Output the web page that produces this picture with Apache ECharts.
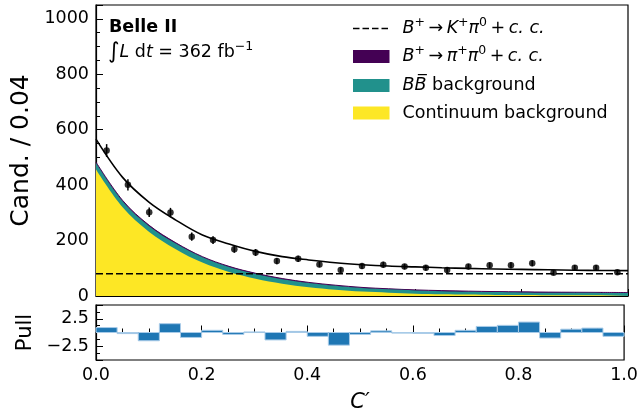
<!DOCTYPE html>
<html><head><meta charset="utf-8">
<script src="https://cdn.jsdelivr.net/npm/echarts@6/dist/echarts.min.js"></script>
<style>html,body{margin:0;padding:0;background:#fff}#c{width:641px;height:417px}</style>
</head><body><div id="c"></div>
<script>
// ---- data ----
const binWidth = 0.04;
const dataX = [0.02,0.06,0.10,0.14,0.18,0.22,0.26,0.30,0.34,0.38,0.42,0.46,0.50,0.54,0.58,0.62,0.66,0.70,0.74,0.78,0.82,0.86,0.90,0.94,0.98];
const dataY = [525,401,302,301,214,202,169,157,126,134,114,94,108,113,106,102,94,106,111,111,118,84,102,102,86];
const dataErr = [23,20,17,17,15,14,13,12.5,11,11.5,10.5,10,10.5,10.5,10,10,10,10,10.5,10.5,11,9,10,10,9];
const pulls = [0.9,-0.2,-1.5,1.6,-0.9,0.4,-0.35,0.1,-1.35,0.2,-0.7,-2.3,-0.35,0.3,-0.05,-0.15,-0.55,0.4,1.1,1.3,1.9,-1.0,0.6,0.8,-0.7];
const curveX = [0,0.05,0.10,0.15,0.20,0.25,0.30,0.35,0.40,0.45,0.50,0.55,0.60,0.65,0.70,0.75,0.80,0.85,0.90,0.95,1.00];
const totalFit = [566,428,338,274,220,188,161,142,130,120,113,108,105,102,99.5,97.5,96,94.5,93,92,91.5];
const continuum = [456,320,231,169,120.5,86.5,62.5,44.5,32,23,16,12,8.5,6.5,5,4,3.5,3,3,3,2.5];
const bbBkg = [24,22,21,20,19,18,17,16,15,14,13,12,11.5,11,10.5,10,9.5,9,8.5,8,8];
const pipiSig = [3,3,3,3,2.5,2.5,2.5,2.5,2,2,2,2,2,2,2,2,2,2,2,2,2];
const kpiX = [0, 1];
const kpiY = [80, 80];
const xTicks = ['0.0','0.2','0.4','0.6','0.8','1.0'];

// ---- derived tables ----
const pairs = (xs, ys) => xs.map((x, i) => [x, ys[i]]);
const contTop = continuum.slice();
const bbTop = continuum.map((v, i) => v + bbBkg[i]);
const pipiTop = bbTop.map((v, i) => v + pipiSig[i]);

const FONT = 'DejaVu Sans';
const C_YEL = '#fde725', C_TEAL = '#21918c', C_PURP = '#440154', C_BLUE = '#1f77b4';

const frame = {lineStyle:{color:'#000', width:1.2}};
const chart = echarts.init(document.getElementById('c'), null, {renderer:'canvas'});

const base = {fontFamily: FONT, fontSize: 17.5, color:'#000'};
const rich = {
  n: {fontFamily: FONT, fontSize: 17.5, lineHeight: 24, color:'#000'},
  i: {fontFamily: FONT, fontSize: 17.5, lineHeight: 24, fontStyle:'italic', color:'#000'},
  s: {fontFamily: FONT, fontSize: 12.5, lineHeight: 14, verticalAlign:'top', color:'#000'},
  b: {fontFamily: FONT, fontSize: 17.5, lineHeight: 24, fontWeight:'bold', color:'#000'},
  int: {fontFamily: FONT, fontSize: 22, lineHeight: 24, color:'#000'}
};
function txt(x, y, text) {
  return {type:'text', x: x, y: y, z: 100, style:{text: text, rich: rich, verticalAlign:'middle', align:'left', font: '17.5px "DejaVu Sans"'}};
}

const option = {
  animation: false,
  backgroundColor: '#fff',
  grid: [
    {left: 96, right: 13, top: 5, bottom: 121, show: true, borderColor:'#000', borderWidth: 1.2, backgroundColor:'transparent'},
    {left: 96, right: 13, top: 305, bottom: 57, show: true, borderColor:'#000', borderWidth: 1.2, backgroundColor:'transparent'}
  ],
  xAxis: [
    {type:'value', gridIndex:0, min:0, max:1, interval:0.2, axisLine: frame,
     axisTick:{inside:true, length:7, lineStyle:{color:'#000'}}, minorTick:{show:true, splitNumber:4, length:4, lineStyle:{color:'#000'}},
     axisLabel:{show:false}, splitLine:{show:false}, minorSplitLine:{show:false}},
    {type:'value', gridIndex:1, min:0, max:1, interval:0.2, axisLine: frame,
     axisTick:{inside:true, length:7, lineStyle:{color:'#000'}}, minorTick:{show:true, splitNumber:4, length:4, lineStyle:{color:'#000'}},
     axisLabel:{...base, margin:6, formatter:(v)=> xTicks[Math.round(v/0.2)]}, splitLine:{show:false},
     name:'C\u2032', nameLocation:'middle', nameGap:32,
     nameTextStyle:{fontFamily:FONT, fontSize:21, fontStyle:'italic', color:'#000'}}
  ],
  yAxis: [
    {type:'value', gridIndex:0, min:0, max:1050, interval:200, axisLine: frame,
     axisTick:{inside:true, length:7, lineStyle:{color:'#000'}},
     axisLabel:{...base, margin:7, formatter:(v)=> (v % 200 === 0 ? String(v) : '')}, splitLine:{show:false},
     name:'Cand. / 0.04', nameLocation:'middle', nameGap:57,
     nameTextStyle:{fontFamily:FONT, fontSize:25, color:'#000'}},
    {type:'value', gridIndex:0, position:'left', min:0, max:1050, interval:50,
     axisLine:{show:false}, axisTick:{inside:true, length:4, lineStyle:{color:'#000'}},
     axisLabel:{show:false}, splitLine:{show:false}},
    {type:'value', gridIndex:1, min:-5, max:5, interval:2.5, axisLine: frame,
     axisTick:{inside:true, length:7, lineStyle:{color:'#000'}}, minorTick:{show:true, splitNumber:2, length:4, lineStyle:{color:'#000'}},
     axisLabel:{...base, margin:7, formatter:(v)=> (v === 2.5 ? '2.5' : (v === -2.5 ? '\u22122.5' : ''))}, splitLine:{show:false},
     name:'Pull', nameLocation:'middle', nameGap:60,
     nameTextStyle:{fontFamily:FONT, fontSize:21, color:'#000'}}
  ],
  series: [
    {type:'line', name:'pipi', xAxisIndex:0, yAxisIndex:0, data: pairs(curveX, pipiTop), symbol:'none', smooth:0.35,
     lineStyle:{width:1, color:C_PURP}, areaStyle:{color:C_PURP, opacity:1}, z:1},
    {type:'line', name:'BB', xAxisIndex:0, yAxisIndex:0, data: pairs(curveX, bbTop), symbol:'none', smooth:0.35,
     lineStyle:{width:0}, areaStyle:{color:C_TEAL, opacity:1}, z:2},
    {type:'line', name:'cont', xAxisIndex:0, yAxisIndex:0, data: pairs(curveX, contTop), symbol:'none', smooth:0.35,
     lineStyle:{width:0}, areaStyle:{color:C_YEL, opacity:1}, z:3},
    {type:'line', name:'Kpi', xAxisIndex:0, yAxisIndex:0, data: pairs(kpiX, kpiY), symbol:'none',
     lineStyle:{width:1.5, color:'#000', type:[7,3]}, z:4},
    {type:'line', name:'total', xAxisIndex:0, yAxisIndex:0, data: pairs(curveX, totalFit), symbol:'none', smooth:0.35,
     lineStyle:{width:1.6, color:'#000'}, z:5},
    {type:'custom', name:'err', xAxisIndex:0, yAxisIndex:0, z:6,
     data: dataX.map((x, i) => [x, dataY[i], dataErr[i]]), encode:{x:0, y:1},
     renderItem: (params, api) => {
       const x = api.value(0), y = api.value(1), e = api.value(2);
       const p1 = api.coord([x, y - e]), p2 = api.coord([x, y + e]);
       return {type:'line', shape:{x1:p1[0], y1:p1[1], x2:p2[0], y2:p2[1]}, style:{stroke:'#000', lineWidth:1.5}};
     }},
    {type:'scatter', name:'data', xAxisIndex:0, yAxisIndex:0, data: pairs(dataX, dataY), symbol:'circle', symbolSize:6.5,
     itemStyle:{color:'#000'}, z:7},
    {type:'custom', name:'pull', xAxisIndex:1, yAxisIndex:2, z:3,
     data: dataX.map((x, i) => [x, pulls[i]]), encode:{x:0, y:1},
     renderItem: (params, api) => {
       const c = api.value(0), v = api.value(1);
       const p0 = api.coord([c - binWidth/2, 0]), p1 = api.coord([c + binWidth/2, v]);
       return {type:'rect', shape:{x:p0[0], y:Math.min(p0[1], p1[1]), width:p1[0]-p0[0], height:Math.max(Math.abs(p1[1]-p0[1]), 0.6)},
               style:{fill:C_BLUE, stroke:'#a8cbe8', lineWidth:1}};
     }}
  ],
  graphic: [
    txt(109, 27, '{b|Belle II}'),
    txt(108, 52, '{int|\u222B}{i|L}{n| d}{i|t}{n| = 362 fb}{s|\u22121}'),
    {type:'line', z:100, shape:{x1:353, y1:28.5, x2:389, y2:28.5}, style:{stroke:'#000', lineWidth:1.5, lineDash:[6.5,3]}},
    {type:'rect', z:100, shape:{x:353, y:50, width:36.5, height:13}, style:{fill:C_PURP}},
    {type:'rect', z:100, shape:{x:353, y:79, width:36.5, height:13}, style:{fill:C_TEAL}},
    {type:'rect', z:100, shape:{x:353, y:106.5, width:36.5, height:13}, style:{fill:C_YEL}},
    txt(402.5, 28.5, '{i|B}{s|+}{n|\u2009\u2192\u2009}{i|K}{s|+}{i|\u03C0}{s|0}{n|\u2009+\u2009}{i|c. c.}'),
    txt(402.5, 56.5, '{i|B}{s|+}{n|\u2009\u2192\u2009}{i|\u03C0}{s|+}{i|\u03C0}{s|0}{n|\u2009+\u2009}{i|c. c.}'),
    txt(402.5, 85.5, '{i|BB\u0305}{n| background}'),
    txt(402.5, 113, '{n|Continuum background}')
  ]
};
chart.setOption(option);
</script>
</body></html>
